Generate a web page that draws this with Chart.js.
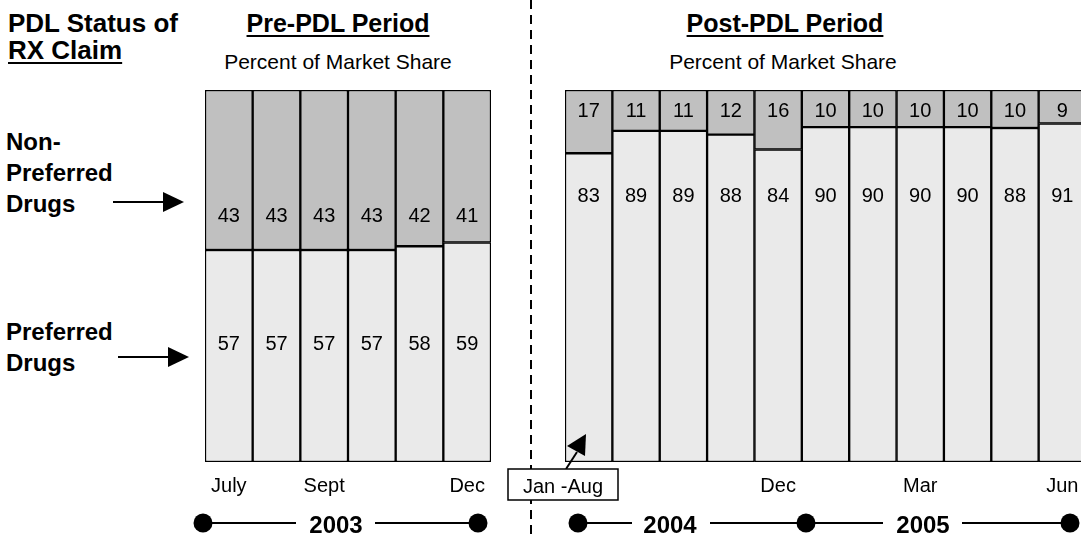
<!DOCTYPE html>
<html>
<head>
<meta charset="utf-8">
<script src="https://cdn.jsdelivr.net/npm/chart.js@4.4.0/dist/chart.umd.min.js"></script>
<style>
  body { margin: 0; width: 1081px; height: 538px; overflow: hidden; background: #fff; position: relative;
         font-family: "Liberation Sans", Arial, sans-serif; color: #000; }
  .txt { position: absolute; white-space: nowrap; }
  .b { font-weight: bold; }
  .u { text-decoration: underline; text-decoration-thickness: 2px; text-underline-offset: 3px; }
  .box { position: absolute; }
  svg { position: absolute; left: 0; top: 0; pointer-events: none; }
</style>
</head>
<body>

<div class="txt b" style="left:8px; top:10px; font-size:26px; line-height:26px;">PDL Status of</div>
<div class="txt b u" style="left:8px; top:37px; font-size:26px; line-height:26px;">RX Claim</div>

<div class="txt b" style="left:6px; top:126px; font-size:24px; line-height:31px;">Non-<br>Preferred<br>Drugs</div>
<div class="txt b" style="left:6px; top:316px; font-size:24px; line-height:31px;">Preferred<br>Drugs</div>

<div class="txt b u" style="left:138px; width:400px; text-align:center; top:10px; font-size:25px; line-height:26px;">Pre-PDL Period</div>
<div class="txt" style="left:138px; width:400px; text-align:center; top:51px; font-size:21px; line-height:22px;">Percent of Market Share</div>
<div class="txt b u" style="left:585px; width:400px; text-align:center; top:10px; font-size:25px; line-height:26px;">Post-PDL Period</div>
<div class="txt" style="left:583px; width:400px; text-align:center; top:51px; font-size:21px; line-height:22px;">Percent of Market Share</div>

<div class="box" style="left:205px; top:90px; width:286px; height:420px;"><canvas id="preChart"></canvas></div>
<div class="box" style="left:565px; top:90px; width:521px; height:420px;"><canvas id="postChart"></canvas></div>

<svg width="1081" height="538">
  <line x1="531" y1="0" x2="531" y2="538" stroke="#000" stroke-width="2" stroke-dasharray="9 6"/>
  <!-- row arrows -->
  <line x1="113" y1="202" x2="165" y2="202" stroke="#000" stroke-width="2"/>
  <polygon points="163,192 184,202 163,212" fill="#000"/>
  <line x1="118" y1="357" x2="170" y2="357" stroke="#000" stroke-width="2"/>
  <polygon points="168,347 189,357 168,367" fill="#000"/>
  <!-- Jan-Aug note -->
  <line x1="566" y1="469" x2="577" y2="452" stroke="#000" stroke-width="2"/>
  <polygon points="567,446 586,434 585,456" fill="#000"/>
  <rect x="508" y="469" width="110" height="31" fill="#fff" stroke="#000" stroke-width="1.5"/>
  <text x="563" y="485.5" font-family="Liberation Sans, Arial, sans-serif" font-size="20" text-anchor="middle" dominant-baseline="central">Jan -Aug</text>
  <!-- year timeline -->
  <g stroke="#000" stroke-width="2">
    <line x1="203" y1="523" x2="296" y2="523"/>
    <line x1="375" y1="523" x2="478" y2="523"/>
    <line x1="578" y1="523" x2="632" y2="523"/>
    <line x1="710" y1="523" x2="806" y2="523"/>
    <line x1="806" y1="523" x2="883" y2="523"/>
    <line x1="962" y1="523" x2="1070" y2="523"/>
  </g>
  <g fill="#000">
    <circle cx="203" cy="523" r="9.5"/>
    <circle cx="478" cy="523" r="9.5"/>
    <circle cx="578" cy="523" r="9.5"/>
    <circle cx="806" cy="523" r="9.5"/>
    <circle cx="1070" cy="523" r="9.5"/>
  </g>
  <g font-family="Liberation Sans, Arial, sans-serif" font-size="24" font-weight="bold" text-anchor="middle" dominant-baseline="central">
    <text x="336" y="524">2003</text>
    <text x="670" y="524">2004</text>
    <text x="923" y="524">2005</text>
  </g>
</svg>

<script>
// Pre-PDL period (2003)
const preMonths = ['Jul', 'Aug', 'Sep', 'Oct', 'Nov', 'Dec'];
const preTicks = ['July', '', 'Sept', '', '', 'Dec'];
const prePreferred = [57, 57, 57, 57, 58, 59];
const preNonPreferred = [43, 43, 43, 43, 42, 41];

// Post-PDL period (2004-2005)
const postMonths = ['Jan-Aug', 'Sep', 'Oct', 'Nov', 'Dec', 'Jan', 'Feb', 'Mar', 'Apr', 'May', 'Jun'];
const postTicks = ['', '', '', '', 'Dec', '', '', 'Mar', '', '', 'Jun'];
const postPreferred = [83, 89, 89, 88, 84, 90, 90, 90, 90, 88, 91];
const postNonPreferred = [17, 11, 11, 12, 16, 10, 10, 10, 10, 10, 9];

const grayDark = '#c0c0c0';
const grayLight = '#eaeaea';

// share of the bar (bars are drawn as 100% of market share)
function share(a, b) {
  return a.map((v, i) => v / (v + b[i]) * 100);
}

// draws the printed numbers at a fixed height for each row
const rowLabels = {
  id: 'rowLabels',
  afterDatasetsDraw(chart, args, opts) {
    const ctx = chart.ctx;
    const y = chart.scales.y;
    ctx.save();
    ctx.font = '20px "Liberation Sans", Arial, sans-serif';
    ctx.fillStyle = '#000';
    ctx.textAlign = 'center';
    ctx.textBaseline = 'middle';
    chart.data.datasets.forEach((ds, i) => {
      const meta = chart.getDatasetMeta(i);
      const py = y.getPixelForValue(opts.at[i]);
      meta.data.forEach((bar, j) => {
        ctx.fillText(String(ds.printed[j]), bar.x, py);
      });
    });
    ctx.restore();
  }
};

function makeChart(id, months, ticks, preferred, nonPreferred, labelAt) {
  const ctx = document.getElementById(id).getContext('2d');
  return new Chart(ctx, {
    type: 'bar',
    data: {
      labels: months,
      datasets: [
        {
          label: 'Preferred Drugs',
          data: share(preferred, nonPreferred),
          printed: preferred,
          backgroundColor: grayLight,
          borderColor: '#000',
          borderWidth: 1.5,
          borderSkipped: false
        },
        {
          label: 'Non-Preferred Drugs',
          data: share(nonPreferred, preferred),
          printed: nonPreferred,
          backgroundColor: grayDark,
          borderColor: '#000',
          borderWidth: 1.5,
          borderSkipped: false
        }
      ]
    },
    options: {
      responsive: true,
      maintainAspectRatio: false,
      animation: false,
      layout: { padding: 0 },
      datasets: { bar: { barPercentage: 1, categoryPercentage: 1 } },
      plugins: {
        legend: { display: false },
        tooltip: { enabled: false },
        rowLabels: { at: labelAt }
      },
      scales: {
        x: {
          stacked: true,
          // invisible tick marks push the labels down without adding side padding
          grid: { display: true, drawOnChartArea: false, drawTicks: true, tickLength: 12, color: 'rgba(0,0,0,0)' },
          border: { display: false },
          afterFit: (axis) => { axis.height = 48; },
          ticks: {
            autoSkip: false,
            maxRotation: 0,
            padding: 0,
            color: '#000',
            font: { family: '"Liberation Sans", Arial, sans-serif', size: 20 },
            callback: (v, i) => ticks[i]
          }
        },
        y: { stacked: true, display: false, min: 0, max: 100 }
      }
    },
    plugins: [rowLabels]
  });
}

makeChart('preChart', preMonths, preTicks, prePreferred, preNonPreferred, [31.5, 65.9]);
makeChart('postChart', postMonths, postTicks, postPreferred, postNonPreferred, [71.5, 94.2]);
</script>
</body>
</html>
